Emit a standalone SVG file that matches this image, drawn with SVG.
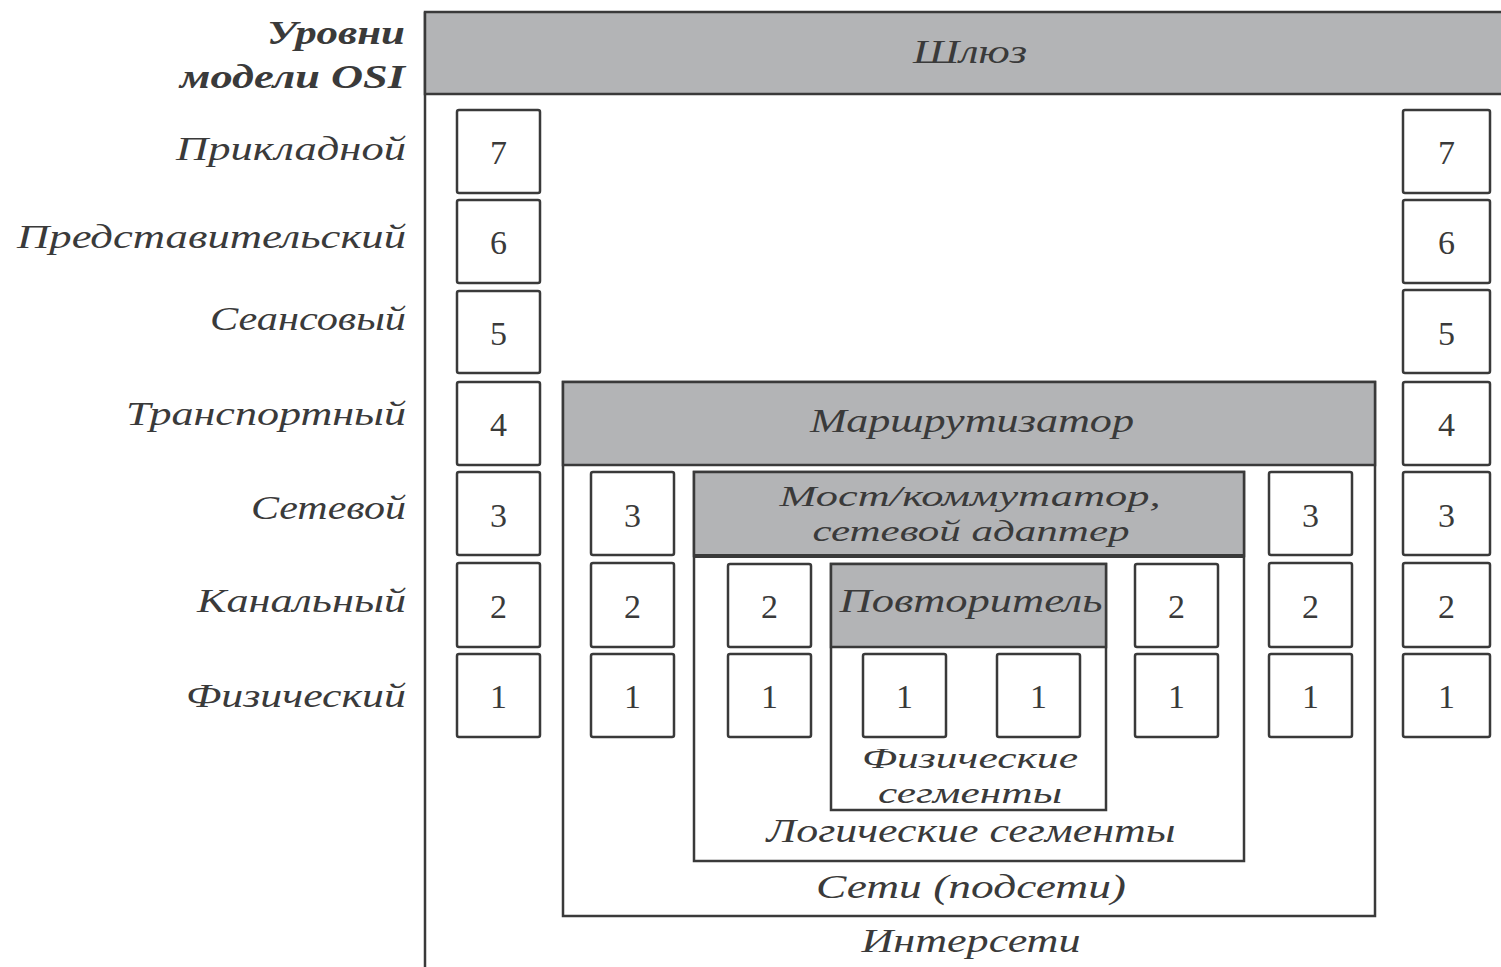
<svg xmlns="http://www.w3.org/2000/svg" width="1501" height="967" viewBox="0 0 1501 967">
<style>
.bg{fill:#ffffff}
.frame{fill:#ffffff;stroke:#3a3a3a;stroke-width:2.5}
.hdr{fill:#b3b4b6;stroke:#3a3a3a;stroke-width:2.5}
.box{fill:#ffffff;stroke:#3a3a3a;stroke-width:2.5}
.t{font-family:"Liberation Serif","DejaVu Serif",serif;font-style:italic;font-size:34px;fill:#3a3a3a;text-anchor:middle}
.s{font-size:30px}
.lbl{font-family:"Liberation Serif","DejaVu Serif",serif;font-style:italic;font-size:34px;fill:#3a3a3a;text-anchor:end}
.hd{font-weight:bold}
.n{font-family:"Liberation Serif","DejaVu Serif",serif;font-size:34px;fill:#3a3a3a;text-anchor:middle}
</style>
<rect class="bg" x="0" y="0" width="1501" height="967"/>

<g id="level-labels">
  <text class="lbl hd" x="405" y="44" textLength="138" lengthAdjust="spacingAndGlyphs">Уровни</text>
  <text class="lbl hd" x="405" y="88" textLength="225" lengthAdjust="spacingAndGlyphs">модели OSI</text>
  <text class="lbl" x="406" y="160" textLength="230" lengthAdjust="spacingAndGlyphs">Прикладной</text>
  <text class="lbl" x="406" y="248" textLength="389" lengthAdjust="spacingAndGlyphs">Представительский</text>
  <text class="lbl" x="406" y="330" textLength="196" lengthAdjust="spacingAndGlyphs">Сеансовый</text>
  <text class="lbl" x="406" y="425" textLength="280" lengthAdjust="spacingAndGlyphs">Транспортный</text>
  <text class="lbl" x="406" y="519" textLength="155" lengthAdjust="spacingAndGlyphs">Сетевой</text>
  <text class="lbl" x="406" y="612" textLength="209" lengthAdjust="spacingAndGlyphs">Канальный</text>
  <text class="lbl" x="406" y="707" textLength="220" lengthAdjust="spacingAndGlyphs">Физический</text>
</g>

<g id="gateway">
  <line x1="425" y1="12" x2="425" y2="967" stroke="#3a3a3a" stroke-width="2.5"/>
  <rect class="hdr" x="425" y="12" width="1080" height="82"/>
  <text class="t" x="970" y="63" textLength="114" lengthAdjust="spacingAndGlyphs">Шлюз</text>
  <text class="t" x="971" y="952" textLength="219" lengthAdjust="spacingAndGlyphs">Интерсети</text>
</g>

<g id="router">
  <rect class="frame" x="563" y="382" width="812" height="534"/>
  <rect class="hdr" x="563" y="382" width="812" height="83"/>
  <text class="t" x="972" y="432" textLength="324" lengthAdjust="spacingAndGlyphs">Маршрутизатор</text>
  <text class="t" x="971" y="898" textLength="310" lengthAdjust="spacingAndGlyphs">Сети (подсети)</text>
</g>

<g id="bridge">
  <rect class="frame" x="694" y="472" width="550" height="389"/>
  <rect class="hdr" x="694" y="472" width="550" height="84"/>
  <line x1="694" y1="556" x2="1244" y2="556" stroke="#3a3a3a" stroke-width="4"/>
  <text class="t s" x="970" y="506" textLength="381" lengthAdjust="spacingAndGlyphs">Мост/коммутатор,</text>
  <text class="t s" x="971" y="541" textLength="317" lengthAdjust="spacingAndGlyphs">сетевой адаптер</text>
  <text class="t" x="971" y="842" textLength="409" lengthAdjust="spacingAndGlyphs">Логические сегменты</text>
</g>

<g id="repeater">
  <rect class="frame" x="831" y="564" width="275" height="246"/>
  <rect class="hdr" x="831" y="564" width="275" height="83"/>
  <text class="t" x="971" y="612" textLength="263" lengthAdjust="spacingAndGlyphs">Повторитель</text>
  <text class="t s" x="970" y="768" textLength="216" lengthAdjust="spacingAndGlyphs">Физические</text>
  <text class="t s" x="970" y="803" textLength="184" lengthAdjust="spacingAndGlyphs">сегменты</text>
</g>

<g id="stack-left">
  <rect class="box" x="457" y="110" width="83" height="83" rx="2"/><text class="n" x="498.5" y="164">7</text>
  <rect class="box" x="457" y="200" width="83" height="83" rx="2"/><text class="n" x="498.5" y="254">6</text>
  <rect class="box" x="457" y="291" width="83" height="82" rx="2"/><text class="n" x="498.5" y="345">5</text>
  <rect class="box" x="457" y="382" width="83" height="83" rx="2"/><text class="n" x="498.5" y="436">4</text>
  <rect class="box" x="457" y="472" width="83" height="83" rx="2"/><text class="n" x="498.5" y="527">3</text>
  <rect class="box" x="457" y="563" width="83" height="84" rx="2"/><text class="n" x="498.5" y="618">2</text>
  <rect class="box" x="457" y="654" width="83" height="83" rx="2"/><text class="n" x="498.5" y="708">1</text>
</g>

<g id="stack-right">
  <rect class="box" x="1403" y="110" width="87" height="83" rx="2"/><text class="n" x="1446.5" y="164">7</text>
  <rect class="box" x="1403" y="200" width="87" height="83" rx="2"/><text class="n" x="1446.5" y="254">6</text>
  <rect class="box" x="1403" y="290" width="87" height="83" rx="2"/><text class="n" x="1446.5" y="345">5</text>
  <rect class="box" x="1403" y="382" width="87" height="83" rx="2"/><text class="n" x="1446.5" y="436">4</text>
  <rect class="box" x="1403" y="472" width="87" height="83" rx="2"/><text class="n" x="1446.5" y="527">3</text>
  <rect class="box" x="1403" y="563" width="87" height="84" rx="2"/><text class="n" x="1446.5" y="618">2</text>
  <rect class="box" x="1403" y="654" width="87" height="83" rx="2"/><text class="n" x="1446.5" y="708">1</text>
</g>

<g id="net-left">
  <rect class="box" x="591" y="472" width="83" height="83" rx="2"/><text class="n" x="632.5" y="527">3</text>
  <rect class="box" x="591" y="563" width="83" height="84" rx="2"/><text class="n" x="632.5" y="618">2</text>
  <rect class="box" x="591" y="654" width="83" height="83" rx="2"/><text class="n" x="632.5" y="708">1</text>
</g>

<g id="net-right">
  <rect class="box" x="1269" y="472" width="83" height="83" rx="2"/><text class="n" x="1310.5" y="527">3</text>
  <rect class="box" x="1269" y="563" width="83" height="84" rx="2"/><text class="n" x="1310.5" y="618">2</text>
  <rect class="box" x="1269" y="654" width="83" height="83" rx="2"/><text class="n" x="1310.5" y="708">1</text>
</g>

<g id="seg-left">
  <rect class="box" x="728" y="564" width="83" height="83" rx="2"/><text class="n" x="769.5" y="618">2</text>
  <rect class="box" x="728" y="654" width="83" height="83" rx="2"/><text class="n" x="769.5" y="708">1</text>
</g>

<g id="seg-right">
  <rect class="box" x="1135" y="564" width="83" height="83" rx="2"/><text class="n" x="1176.5" y="618">2</text>
  <rect class="box" x="1135" y="654" width="83" height="83" rx="2"/><text class="n" x="1176.5" y="708">1</text>
</g>

<g id="phys-left">
  <rect class="box" x="863" y="654" width="83" height="83" rx="2"/><text class="n" x="904.5" y="708">1</text>
</g>

<g id="phys-right">
  <rect class="box" x="997" y="654" width="83" height="83" rx="2"/><text class="n" x="1038.5" y="708">1</text>
</g>

<g id="connectors"/>
</svg>
